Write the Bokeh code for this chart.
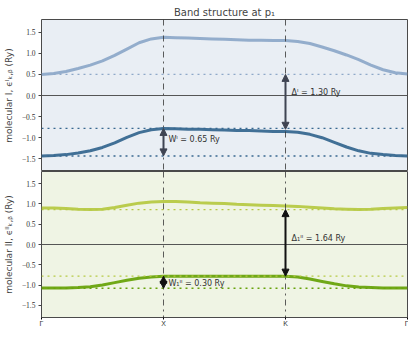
from bokeh.plotting import figure
from bokeh.layouts import column
from bokeh.models import Range1d, Span, Arrow, NormalHead, Label, FixedTicker
from bokeh.embed import file_html
from bokeh.resources import INLINE

# k-path positions
k = [0.0, 0.1, 0.2, 0.3, 0.4, 0.5, 0.6, 0.7, 0.8, 0.9, 1.0,
     1.1, 1.2, 1.3, 1.4, 1.5, 1.6, 1.7, 1.8, 1.9, 2.0,
     2.1, 2.2, 2.3, 2.4, 2.5, 2.6, 2.7, 2.8, 2.9, 3.0]
k_ticks = [0, 1, 2, 3]
k_labels = ["Γ", "X", "K", "Γ"]

# molecular I bands (Ry)
band_I_upper = [0.50, 0.52, 0.57, 0.64, 0.72, 0.82, 0.95, 1.10, 1.25, 1.34, 1.38,
                1.37, 1.36, 1.35, 1.34, 1.33, 1.32, 1.31, 1.31, 1.30, 1.30,
                1.28, 1.23, 1.15, 1.06, 0.96, 0.85, 0.72, 0.61, 0.54, 0.51]
band_I_lower = [-1.43, -1.42, -1.40, -1.36, -1.31, -1.23, -1.12, -0.99, -0.88, -0.81, -0.78,
                -0.79, -0.80, -0.80, -0.81, -0.82, -0.83, -0.83, -0.84, -0.85, -0.85,
                -0.87, -0.92, -1.00, -1.11, -1.22, -1.31, -1.37, -1.40, -1.42, -1.43]
# molecular II bands (Ry)
band_II_upper = [0.90, 0.90, 0.89, 0.87, 0.86, 0.87, 0.91, 0.97, 1.02, 1.05, 1.06,
                 1.06, 1.05, 1.03, 1.02, 1.01, 0.99, 0.98, 0.97, 0.96, 0.95,
                 0.94, 0.92, 0.90, 0.88, 0.87, 0.86, 0.87, 0.89, 0.90, 0.91]
band_II_lower = [-1.07, -1.07, -1.07, -1.06, -1.04, -1.00, -0.94, -0.88, -0.83, -0.80, -0.78,
                 -0.78, -0.78, -0.78, -0.78, -0.78, -0.78, -0.78, -0.78, -0.78, -0.78,
                 -0.80, -0.85, -0.91, -0.97, -1.02, -1.05, -1.06, -1.07, -1.07, -1.07]

# reference levels (band extrema)
I_upper_min, I_lower_max, I_lower_min = 0.50, -0.80, -1.43
I_lower_max_X = -0.78
II_upper_min, II_lower_max, II_lower_min = 0.86, -0.78, -1.08

y_ticks = [-1.5, -1.0, -0.5, 0.0, 0.5, 1.0, 1.5]
y_tick_labels = ["−1.5", "−1.0", "−0.5", "0.0", "0.5", "1.0", "1.5"]

W = 408
FRAME_BORDER = "#4a4a4a"


def make_panel(height, bg, ylabel, title=None, show_x=False):
    p = figure(width=W, height=height, output_backend="svg", toolbar_location=None,
               x_range=Range1d(0, 3), y_range=Range1d(-1.8, 1.8),
               min_border_left=0, min_border_right=1, min_border_top=0,
               min_border_bottom=0, title=title)
    p.background_fill_color = bg
    p.border_fill_color = "white"
    p.outline_line_color = FRAME_BORDER
    p.outline_line_width = 1
    p.grid.visible = False
    p.yaxis.ticker = FixedTicker(ticks=y_ticks)
    p.yaxis.major_label_overrides = {t: l for t, l in zip(y_ticks, y_tick_labels)}
    p.yaxis.major_label_text_font = "Liberation Serif"
    p.yaxis.major_label_text_font_size = "7.5px"
    p.yaxis.major_label_text_color = "#333333"
    p.yaxis.minor_tick_line_color = None
    p.yaxis.major_tick_in = 0
    p.yaxis.major_tick_out = 3
    p.yaxis.axis_line_color = None
    p.yaxis.major_tick_line_color = "#444444"
    p.yaxis.axis_label = ylabel
    p.yaxis.axis_label_text_font = "DejaVu Sans"
    p.yaxis.axis_label_text_font_style = "normal"
    p.yaxis.axis_label_text_font_size = "9px"
    p.yaxis.axis_label_standoff = 5
    p.yaxis.major_label_standoff = 3
    if show_x:
        p.xaxis.ticker = FixedTicker(ticks=k_ticks)
        p.xaxis.major_label_overrides = {t: l for t, l in zip(k_ticks, k_labels)}
        p.xaxis.major_label_text_font_size = "7px"
        p.xaxis.major_label_text_color = "#333333"
        p.xaxis.minor_tick_line_color = None
        p.xaxis.major_tick_in = 0
        p.xaxis.major_tick_out = 2
        p.xaxis.major_label_standoff = 0
        p.xaxis.axis_line_color = None
    else:
        p.xaxis.visible = False
    # high-symmetry verticals and zero line
    for xv in k_ticks[1:3]:
        p.add_layout(Span(location=xv, dimension="height", line_color="#333333",
                          line_width=0.8, line_dash="dashdot"))
    p.add_layout(Span(location=0, dimension="width", line_color="#555555", line_width=1))
    return p


p1 = make_panel(171, "#e9eef4", "molecular I, ϵᴵₖ,ᵦ (Ry)", title="Band structure at p₁")
p1.min_border_top = 19
p1.title.align = "center"
p1.title.text_font = "DejaVu Sans"
p1.title.text_font_size = "10px"
p1.title.text_font_style = "normal"
p1.title.standoff = 4
p1.title.offset = 0

c_I_up, c_I_lo = "#8ea9c9", "#386890"
p1.add_layout(Span(location=I_upper_min, dimension="width", line_color=c_I_up,
                   line_width=1.2, line_dash="dotted"))
p1.add_layout(Span(location=I_lower_max_X, dimension="width", line_color=c_I_lo,
                   line_width=1.2, line_dash="dotted"))
p1.add_layout(Span(location=I_lower_min, dimension="width", line_color=c_I_lo,
                   line_width=1.5, line_dash="dotted"))
p1.line(k, band_I_upper, line_color=c_I_up, line_width=3, line_alpha=0.95)
p1.line(k, band_I_lower, line_color=c_I_lo, line_width=3, line_alpha=0.95)

arrow_c1 = "#3f4452"
p1.add_layout(Arrow(start=NormalHead(size=7, fill_color=arrow_c1, line_color=arrow_c1),
                    end=NormalHead(size=7, fill_color=arrow_c1, line_color=arrow_c1),
                    x_start=k_ticks[1], y_start=I_lower_max_X, x_end=k_ticks[1], y_end=I_lower_min,
                    line_color=arrow_c1, line_width=2))
p1.add_layout(Arrow(start=NormalHead(size=7, fill_color=arrow_c1, line_color=arrow_c1),
                    end=NormalHead(size=7, fill_color=arrow_c1, line_color=arrow_c1),
                    x_start=k_ticks[2], y_start=I_upper_min, x_end=k_ticks[2], y_end=I_lower_max,
                    line_color=arrow_c1, line_width=2))
p1.add_layout(Label(x=1.04, y=-1.04, text="Wᴵ = 0.65 Ry", text_font_size="8px",
                    text_color="#333333", text_font="DejaVu Sans", text_baseline="middle"))
p1.add_layout(Label(x=2.05, y=0.07, text="Δᴵ = 1.30 Ry", text_font_size="8px",
                    text_color="#333333", text_font="DejaVu Sans", text_baseline="middle"))

p2 = make_panel(158, "#eff4e4", "molecular II, ϵᴵᴵₖ,ᵦ (Ry)", show_x=True)
p2.min_border_bottom = 8
c_II_up, c_II_lo = "#b6c944", "#68a30c"
p2.add_layout(Span(location=II_upper_min, dimension="width", line_color=c_II_up,
                   line_width=1.2, line_dash="dotted"))
p2.add_layout(Span(location=II_lower_max, dimension="width", line_color=c_II_up,
                   line_width=1.2, line_dash="dotted"))
p2.add_layout(Span(location=II_lower_min, dimension="width", line_color=c_II_lo,
                   line_width=1.5, line_dash="dotted"))
p2.line(k, band_II_upper, line_color=c_II_up, line_width=3, line_alpha=0.95)
p2.line(k, band_II_lower, line_color=c_II_lo, line_width=3, line_alpha=0.95)

arrow_c2 = "#111111"
p2.add_layout(Arrow(start=NormalHead(size=7, fill_color=arrow_c2, line_color=arrow_c2),
                    end=NormalHead(size=7, fill_color=arrow_c2, line_color=arrow_c2),
                    x_start=k_ticks[1], y_start=II_lower_max, x_end=k_ticks[1], y_end=II_lower_min,
                    line_color=arrow_c2, line_width=2))
p2.add_layout(Arrow(start=NormalHead(size=7, fill_color=arrow_c2, line_color=arrow_c2),
                    end=NormalHead(size=7, fill_color=arrow_c2, line_color=arrow_c2),
                    x_start=k_ticks[2], y_start=II_upper_min, x_end=k_ticks[2], y_end=II_lower_max,
                    line_color=arrow_c2, line_width=2))
p2.add_layout(Label(x=1.04, y=-0.95, text="W₁ᴵᴵ = 0.30 Ry", text_font_size="8px",
                    text_color="#333333", text_font="DejaVu Sans", text_baseline="middle"))
p2.add_layout(Label(x=2.05, y=0.14, text="Δ₁ᴵᴵ = 1.64 Ry", text_font_size="8px",
                    text_color="#333333", text_font="DejaVu Sans", text_baseline="middle"))

layout = column(p1, p2, spacing=0)
open("out.html", "w").write(file_html(layout, INLINE))
